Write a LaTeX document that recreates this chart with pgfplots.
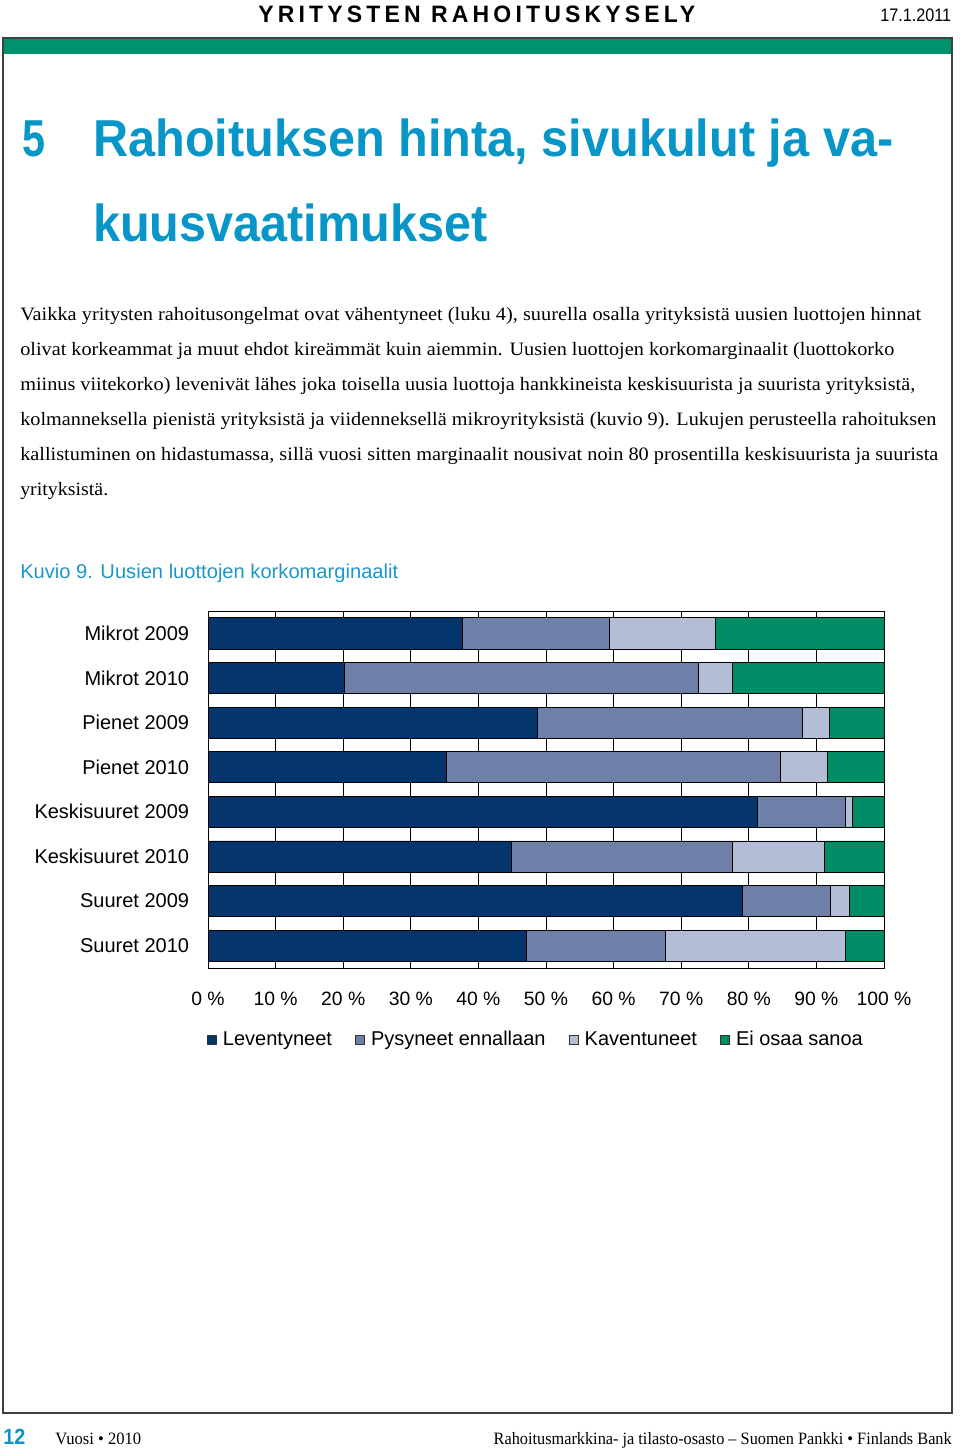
\documentclass[border=0pt]{standalone}
\usepackage{fontspec}
\setmainfont{Liberation Sans}
\newfontfamily\serif{Liberation Serif}
\usepackage{graphicx}
\usepackage{pgfplots}
\usepackage{pgfplotstable}
\pgfplotsset{compat=1.18}
\definecolor{cLev}{RGB}{6,53,110}
\definecolor{cPys}{RGB}{111,128,168}
\definecolor{cKav}{RGB}{179,189,214}
\definecolor{cEi}{RGB}{0,140,100}
\definecolor{hdrgreen}{RGB}{0,146,108}
\definecolor{titleblue}{RGB}{8,150,200}
\definecolor{capblue}{RGB}{30,150,200}

\pgfplotstableread{
idx L P K E
0 37.6 21.7 15.8 24.9
1 20.1 52.5 4.9 22.5
2 48.7 39.2 4.0 8.1
3 35.2 49.4 7.0 8.4
4 81.3 13.0 1.0 4.7
5 44.9 32.7 13.5 8.9
6 79.0 13.1 2.7 5.2
7 47.1 20.6 26.6 5.7
}\data

\newcommand\fw[2]{\resizebox{#1}{\height}{#2}}
\pgfplotsset{sq/.style={legend image code/.code={\draw[##1,draw=black!80,line width=0.5pt] (0pt,-3.4pt) rectangle (6.8pt,3.4pt);}}}

\begin{document}
\begin{tikzpicture}[x=0.75pt,y=-0.75pt]
\path[use as bounding box] (0,0) rectangle (960,1450);
\fill[hdrgreen] (3,38) rectangle (952,54);
\draw[black!75,line width=0.9pt] (3,38) rectangle (952,1413);
% header
\node[anchor=base west,inner sep=0] at (258,22) {\fw{327.75pt}{\fontsize{17.8pt}{20pt}\selectfont\bfseries\addfontfeature{LetterSpace=18}YRITYSTEN RAHOITUSKYSELY}};
\node[anchor=base west,inner sep=0] at (880,21) {\fw{53.25pt}{\fontsize{13.6pt}{15pt}\selectfont 17.1.2011}};
% title
\node[anchor=base west,inner sep=0,text=titleblue] at (22,156) {\fw{17.25pt}{\fontsize{39pt}{44pt}\selectfont\bfseries 5}};
\node[anchor=base west,inner sep=0,text=titleblue] at (93,156) {\fw{600pt}{\fontsize{39pt}{44pt}\selectfont\bfseries Rahoituksen hinta, sivukulut ja va-}};
\node[anchor=base west,inner sep=0,text=titleblue] at (93,241) {\fw{295.5pt}{\fontsize{39pt}{44pt}\selectfont\bfseries kuusvaatimukset}};
% body
\node[anchor=base west,inner sep=0] at (20,320) {\fw{675.75pt}{\serif\fontsize{14.2pt}{16pt}\selectfont Vaikka yritysten rahoitusongelmat ovat vähentyneet (luku 4), suurella osalla yrityksistä uusien luottojen hinnat}};
\node[anchor=base west,inner sep=0] at (20,355) {\fw{655.5pt}{\serif\fontsize{14.2pt}{16pt}\selectfont olivat korkeammat ja muut ehdot kireämmät kuin aiemmin. Uusien luottojen korkomarginaalit (luottokorko}};
\node[anchor=base west,inner sep=0] at (20,390) {\fw{671.25pt}{\serif\fontsize{14.2pt}{16pt}\selectfont miinus viitekorko) levenivät lähes joka toisella uusia luottoja hankkineista keskisuurista ja suurista yrityksistä,}};
\node[anchor=base west,inner sep=0] at (20,425) {\fw{687pt}{\serif\fontsize{14.2pt}{16pt}\selectfont kolmanneksella pienistä yrityksistä ja viidenneksellä mikroyrityksistä (kuvio 9). Lukujen perusteella rahoituksen}};
\node[anchor=base west,inner sep=0] at (20,460) {\fw{688.5pt}{\serif\fontsize{14.2pt}{16pt}\selectfont kallistuminen on hidastumassa, sillä vuosi sitten marginaalit nousivat noin 80 prosentilla keskisuurista ja suurista}};
\node[anchor=base west,inner sep=0] at (20,495) {\fw{66pt}{\serif\fontsize{14.2pt}{16pt}\selectfont yrityksistä.}};
% caption
\node[anchor=base west,inner sep=0,text=capblue] at (20,578) {\fw{283.5pt}{\fontsize{15pt}{17pt}\selectfont Kuvio 9. Uusien luottojen korkomarginaalit}};
% footer
\node[anchor=base west,inner sep=0,text=titleblue] at (3,1444) {\fw{16.5pt}{\fontsize{16.5pt}{18pt}\selectfont\bfseries 12}};
\node[anchor=base west,inner sep=0] at (55,1444) {\fw{64.5pt}{\serif\fontsize{13pt}{15pt}\selectfont Vuosi • 2010}};
\node[anchor=base east,inner sep=0] at (952,1444) {\fw{343.5pt}{\serif\fontsize{13pt}{15pt}\selectfont Rahoitusmarkkina- ja tilasto-osasto – Suomen Pankki • Finlands Bank}};

\begin{axis}[
  at={(156pt,-726pt)}, anchor=south west,
  scale only axis, width=507pt, height=267.75pt,
  xbar stacked, bar width=0.695,
  xmin=0, xmax=100, ymin=-0.5, ymax=7.5, y dir=reverse,
  xtick={0,10,20,30,40,50,60,70,80,90,100},
  xticklabels={0 \%,10 \%,20 \%,30 \%,40 \%,50 \%,60 \%,70 \%,80 \%,90 \%,100 \%},
  ytick={0,1,2,3,4,5,6,7},
  yticklabels={Mikrot 2009,Mikrot 2010,Pienet 2009,Pienet 2010,Keskisuuret 2009,Keskisuuret 2010,Suuret 2009,Suuret 2010},
  major tick length=0pt,
  xmajorgrids, grid style={black,line width=0.6pt},
  axis line style={black,line width=0.6pt},
  tick label style={font=\fontsize{14.5pt}{16pt}\selectfont, inner sep=0pt},
  yticklabel style={xshift=-14pt, font=\fontsize{15pt}{17pt}\selectfont},
  xticklabel style={yshift=-18pt},
  legend columns=4,
  legend style={at={(-0.0015,-0.2)}, anchor=west, draw=none, fill=none, inner sep=0pt,
    font=\fontsize{15pt}{17pt}\selectfont, nodes={inner sep=0pt},
    /tikz/every odd column/.append style={column sep=4.5pt},
    /tikz/every even column/.append style={column sep=17.5pt}},
]
\addplot[fill=cLev, draw=black, line width=0.5pt, sq] table[x=L,y=idx]{\data};
\addplot[fill=cPys, draw=black, line width=0.5pt, sq] table[x=P,y=idx]{\data};
\addplot[fill=cKav, draw=black, line width=0.5pt, sq] table[x=K,y=idx]{\data};
\addplot[fill=cEi, draw=black, line width=0.5pt, sq] table[x=E,y=idx]{\data};
\legend{Leventyneet,Pysyneet ennallaan,Kaventuneet,Ei osaa sanoa}
\end{axis}
\end{tikzpicture}
\end{document}
